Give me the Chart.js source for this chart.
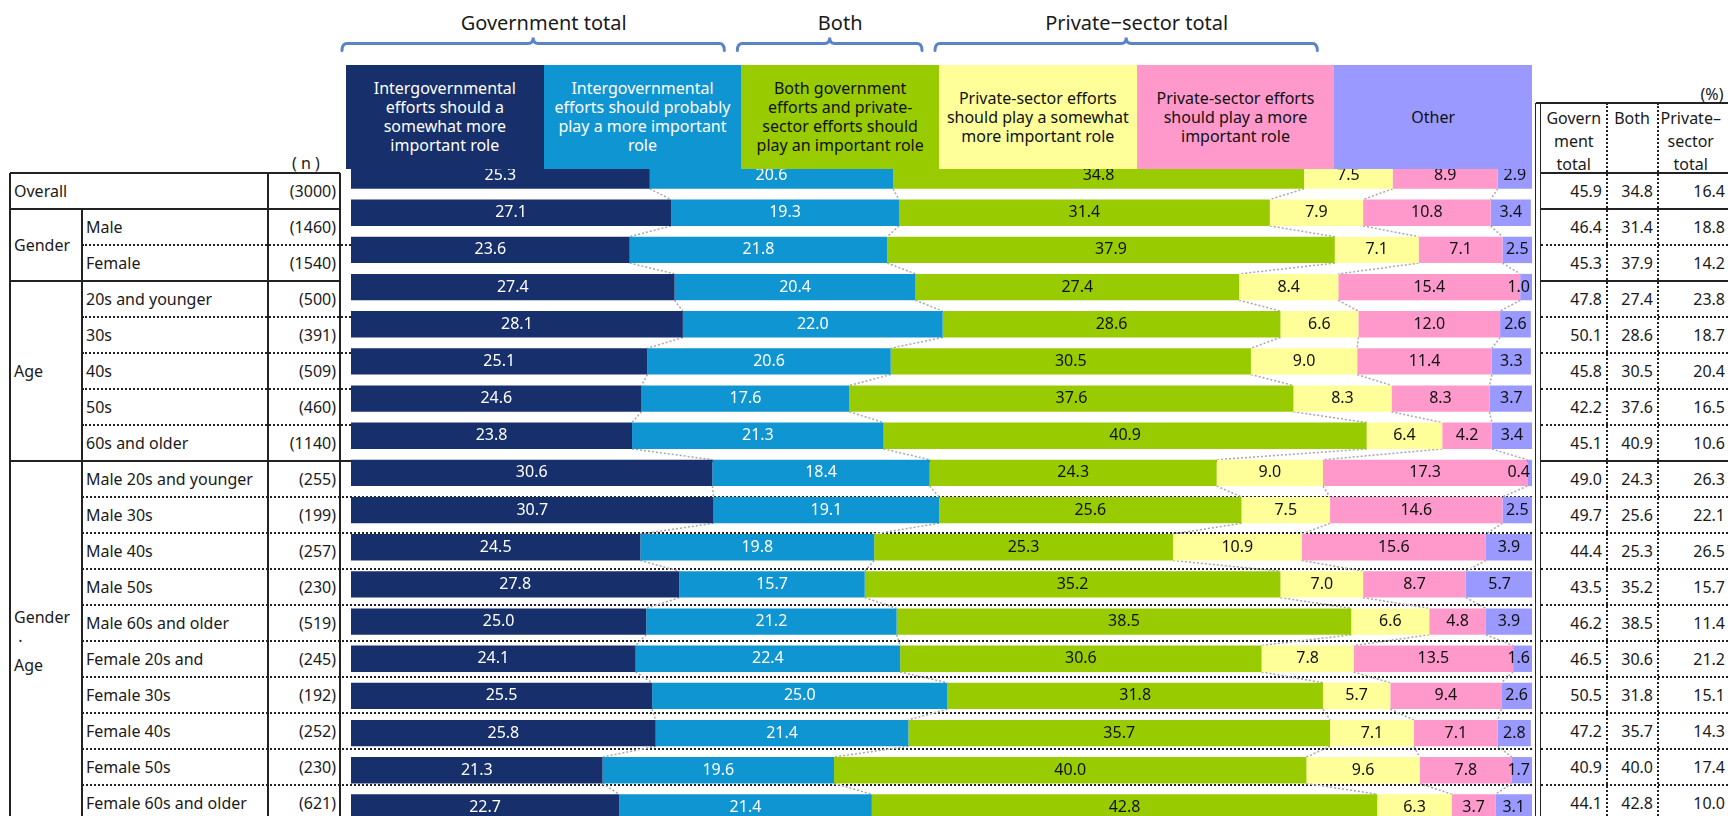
<!DOCTYPE html>
<html>
<head>
<meta charset="utf-8">
<script src="https://cdn.jsdelivr.net/npm/chart.js@4.4.0/dist/chart.umd.min.js"></script>
<style>
  html, body { margin: 0; padding: 0; background: #fff; overflow: hidden; }
  body { width: 1728px; height: 816px; position: relative; font-family: "Noto Sans", sans-serif; color: #1a1a1a; }
  #wrap { position: absolute; left: 0; top: 0; width: 1728px; height: 840px; z-index: 1; }
  .t { position: absolute; white-space: pre; font-size: 16px; line-height: 22px; }
  .ln { position: absolute; }
  .cell { position: absolute; font-size: 16px; line-height: 22px; overflow: hidden; white-space: normal; }
  .head { position: absolute; top: 65px; height: 104px; display: flex; align-items: center; justify-content: center;
          text-align: center; white-space: pre; font-size: 16px; line-height: 19px; z-index: 2; }
</style>
</head>
<body>
<div id="wrap"><canvas id="chart"></canvas></div>
<script>
// ---- data ----
const categories = ['Overall', 'Male', 'Female', '20s and younger', '30s', '40s', '50s', '60s and older',
  'Male 20s and younger', 'Male 30s', 'Male 40s', 'Male 50s', 'Male 60s and older',
  'Female 20s and younger', 'Female 30s', 'Female 40s', 'Female 50s', 'Female 60s and older'];
const nValues = [3000, 1460, 1540, 500, 391, 509, 460, 1140, 255, 199, 257, 230, 519, 245, 192, 252, 230, 621];

const seriesNames = [
  'Intergovernmental\nefforts should a\nsomewhat more\nimportant role',
  'Intergovernmental\nefforts should probably\nplay a more important\nrole',
  'Both government\nefforts and private-\nsector efforts should\nplay an important role',
  'Private-sector efforts\nshould play a somewhat\nmore important role',
  'Private-sector efforts\nshould play a more\nimportant role',
  'Other'
];
const seriesColors = ['#172F6B', '#1095D3', '#99CC00', '#FFFF99', '#FF99CC', '#9999FF'];

const govSomewhat  = [25.3, 27.1, 23.6, 27.4, 28.1, 25.1, 24.6, 23.8, 30.6, 30.7, 24.5, 27.8, 25.0, 24.1, 25.5, 25.8, 21.3, 22.7];
const govProbably  = [20.6, 19.3, 21.8, 20.4, 22.0, 20.6, 17.6, 21.3, 18.4, 19.1, 19.8, 15.7, 21.2, 22.4, 25.0, 21.4, 19.6, 21.4];
const bothRole     = [34.8, 31.4, 37.9, 27.4, 28.6, 30.5, 37.6, 40.9, 24.3, 25.6, 25.3, 35.2, 38.5, 30.6, 31.8, 35.7, 40.0, 42.8];
const privSomewhat = [7.5, 7.9, 7.1, 8.4, 6.6, 9.0, 8.3, 6.4, 9.0, 7.5, 10.9, 7.0, 6.6, 7.8, 5.7, 7.1, 9.6, 6.3];
const privMore     = [8.9, 10.8, 7.1, 15.4, 12.0, 11.4, 8.3, 4.2, 17.3, 14.6, 15.6, 8.7, 4.8, 13.5, 9.4, 7.1, 7.8, 3.7];
const other        = [2.9, 3.4, 2.5, 1.0, 2.6, 3.3, 3.7, 3.4, 0.4, 2.5, 3.9, 5.7, 3.9, 1.6, 2.6, 2.8, 1.7, 3.1];

const govTotal  = [45.9, 46.4, 45.3, 47.8, 50.1, 45.8, 42.2, 45.1, 49.0, 49.7, 44.4, 43.5, 46.2, 46.5, 50.5, 47.2, 40.9, 44.1];
const bothTotal = [34.8, 31.4, 37.9, 27.4, 28.6, 30.5, 37.6, 40.9, 24.3, 25.6, 25.3, 35.2, 38.5, 30.6, 31.8, 35.7, 40.0, 42.8];
const privTotal = [16.4, 18.8, 14.2, 23.8, 18.7, 20.4, 16.5, 10.6, 26.3, 22.1, 26.5, 15.7, 11.4, 21.2, 15.1, 14.3, 17.4, 10.0];
const totalHeads = ['Govern\nment\ntotal', 'Both', 'Private\u2013\nsector\ntotal'];

const braceTitles = ['Government total', 'Both', 'Private\u2212sector total'];
const braceSeries = [[0, 1], [2, 2], [3, 4]];
const groupLabels = ['Gender', 'Age', 'Gender\n \u00b7\nAge'];
const groupRows = [[1, 2], [3, 7], [8, 17]];

// ---- layout ----
const ROW0 = 173, ROWH = 36, BOTTOM = 840;
const X_L = 10, X_C1 = 82, X_C2 = 268, X_C3 = 340;
const BAR_L = 351, BAR_R = 1532, HEAD_L = 346;
const R_D1 = 1536, R_D2 = 1541, R_C1 = 1606.5, R_C2 = 1657.5, PAGE_R = 1728;
const headW = (BAR_R - HEAD_L) / 6;
const SOLID = '2px solid #222', DOT = '2px dotted #222';
const rowY = i => ROW0 + ROWH * (i + 0.5);

function line(x1, y1, x2, y2, style) {
  const d = document.createElement('div');
  d.className = 'ln';
  if (y1 === y2) {
    d.style.left = x1 + 'px'; d.style.top = (y1 - 1) + 'px'; d.style.width = (x2 - x1) + 'px'; d.style.borderTop = style;
  } else {
    d.style.left = (x1 - 1) + 'px'; d.style.top = y1 + 'px'; d.style.height = (y2 - y1) + 'px'; d.style.borderLeft = style;
  }
  document.body.appendChild(d);
}

function txt(s, x, y, align, extra) {
  const d = document.createElement('div');
  d.className = 't';
  d.textContent = s;
  d.style.left = x + 'px';
  d.style.top = y + 'px';
  const tx = align === 'right' ? '-100%' : align === 'center' ? '-50%' : '0';
  d.style.transform = 'translate(' + tx + ',-50%)';
  d.style.textAlign = align || 'left';
  if (extra) Object.assign(d.style, extra);
  document.body.appendChild(d);
  return d;
}

// left table
line(X_L, ROW0, X_C3, ROW0, SOLID);
line(X_L, ROW0, X_L, BOTTOM, SOLID);
line(X_C2, ROW0, X_C2, BOTTOM, SOLID);
line(X_C3, ROW0, X_C3, BOTTOM, SOLID);
line(X_C1, ROW0 + ROWH, X_C1, BOTTOM, SOLID);
txt('( n )', 306, 163, 'center');

const groupStarts = groupRows.map(g => g[0]);
const lowerStart = groupRows[2][0];
for (let i = 1; i < categories.length; i++) {
  const y = ROW0 + ROWH * i;
  if (groupStarts.includes(i)) {
    line(X_L, y, i >= lowerStart ? BAR_R : X_C3, y, SOLID);
    line(R_D2, y, PAGE_R, y, SOLID);
  } else {
    line(X_C1, y, i > lowerStart ? BAR_R : BAR_L, y, DOT);
    line(R_D2, y, PAGE_R, y, DOT);
  }
}

txt(categories[0], 14, rowY(0), 'left');
groupLabels.forEach((g, k) => {
  const [a, b] = groupRows[k];
  txt(g, 14, (rowY(a) + rowY(b)) / 2, 'left', { lineHeight: '24px' });
});
categories.forEach((c, i) => {
  if (i > 0) {
    const d = document.createElement('div');
    d.className = 'cell';
    d.textContent = c;
    d.style.left = '86px';
    d.style.top = (ROW0 + ROWH * i + 1) + 'px';
    d.style.width = '176px';
    d.style.height = (ROWH - 2 - 6) + 'px';
    d.style.paddingTop = '6px';
    document.body.appendChild(d);
  }
  txt('(' + nValues[i] + ')', 336, rowY(i), 'right');
});

// right table
line(R_D1, 103, R_D1, BOTTOM, '1.5px solid #222');
line(R_D2, 103, R_D2, BOTTOM, '1.5px solid #222');
line(R_D1, 103, PAGE_R, 103, SOLID);
line(R_D2, ROW0, PAGE_R, ROW0, SOLID);
line(R_C1, 103, R_C1, BOTTOM, DOT);
line(R_C2, 103, R_C2, BOTTOM, DOT);
txt('(%)', 1712, 94, 'center');
const colCenters = [(R_D2 + R_C1) / 2, (R_C1 + R_C2) / 2, (R_C2 + PAGE_R) / 2 - 2];
const colRights = [1602, 1653, 1725];
totalHeads.forEach((h, k) => {
  const n = h.split('\n').length;
  txt(h, colCenters[k], 106.5 + 11.5 * n, 'center', { lineHeight: '23px' });
});
[govTotal, bothTotal, privTotal].forEach((arr, k) => {
  arr.forEach((v, i) => txt(v.toFixed(1), colRights[k], rowY(i), 'right'));
});

// legend header boxes and brace titles
seriesNames.forEach((s, k) => {
  const d = document.createElement('div');
  d.className = 'head';
  d.textContent = s;
  d.style.left = (HEAD_L + k * headW) + 'px';
  d.style.width = headW + 'px';
  d.style.background = seriesColors[k];
  d.style.color = k < 2 ? '#fff' : '#111';
  document.body.appendChild(d);
});
braceTitles.forEach((t, g) => {
  const [s0, s1] = braceSeries[g];
  txt(t, HEAD_L + (s0 + s1 + 1) * headW / 2, 23, 'center', { fontSize: '20px', lineHeight: '26px' });
});

// ---- chart ----
const connectors = {
  id: 'connectors',
  beforeDatasetsDraw(chart) {
    const c = chart.ctx;
    c.save();
    c.strokeStyle = '#a8a8a8';
    c.lineWidth = 1.5;
    c.setLineDash([2, 2]);
    for (let k = 0; k < chart.data.datasets.length - 1; k++) {
      const bars = chart.getDatasetMeta(k).data;
      for (let i = 0; i < bars.length - 1; i++) {
        const a = bars[i], b = bars[i + 1];
        c.beginPath();
        c.moveTo(a.x, a.y + a.height / 2);
        c.lineTo(b.x, b.y - b.height / 2);
        c.stroke();
      }
    }
    c.restore();
  }
};

const segLabels = {
  id: 'segLabels',
  afterDatasetsDraw(chart) {
    const c = chart.ctx;
    c.save();
    c.font = '16px "Noto Sans"';
    c.textBaseline = 'middle';
    c.textAlign = 'center';
    chart.data.datasets.forEach((ds, k) => {
      chart.getDatasetMeta(k).data.forEach((bar, i) => {
        const s = ds.data[i].toFixed(1);
        const w = c.measureText(s).width;
        let cx = (bar.x + bar.base) / 2;
        const right = chart.chartArea.right - 2;
        if (cx + w / 2 > right) cx = right - w / 2;
        c.fillStyle = k < 2 ? '#fff' : '#111';
        c.fillText(s, cx, bar.y);
      });
    });
    c.restore();
  }
};

const braces = {
  id: 'braces',
  afterDraw(chart) {
    const c = chart.ctx;
    c.save();
    c.strokeStyle = '#5B84C4';
    c.lineWidth = 3;
    c.lineCap = 'round';
    braceSeries.forEach(([s0, s1]) => {
      const x0 = HEAD_L + s0 * headW - 4, x1 = HEAD_L + (s1 + 1) * headW - 17, xm = (x0 + x1) / 2;
      const yH = 43.5, yEnd = 50.5, yTip = 37.5, r = 5;
      c.beginPath();
      c.moveTo(x0, yEnd);
      c.quadraticCurveTo(x0, yH, x0 + r, yH);
      c.lineTo(xm - r, yH);
      c.quadraticCurveTo(xm, yH, xm, yTip);
      c.quadraticCurveTo(xm, yH, xm + r, yH);
      c.lineTo(x1 - r, yH);
      c.quadraticCurveTo(x1, yH, x1, yEnd);
      c.stroke();
    });
    c.restore();
  }
};

const seriesData = [govSomewhat, govProbably, bothRole, privSomewhat, privMore, other];
const ctx = document.getElementById('chart').getContext('2d');
new Chart(ctx, {
  type: 'bar',
  data: {
    labels: categories,
    datasets: seriesData.map((d, k) => ({
      label: seriesNames[k].replace(/\n/g, ' '),
      data: d,
      backgroundColor: seriesColors[k],
      borderWidth: 0,
      categoryPercentage: 1,
      barPercentage: 0.71
    }))
  },
  options: {
    indexAxis: 'y',
    responsive: true,
    maintainAspectRatio: false,
    animation: false,
    layout: { padding: { left: BAR_L, right: 1728 - BAR_R, top: 157, bottom: 14 } },
    scales: {
      x: { stacked: true, min: 0, max: 100, display: false },
      y: { stacked: true, display: false }
    },
    plugins: { legend: { display: false }, tooltip: { enabled: false } }
  },
  plugins: [connectors, segLabels, braces]
});
</script>
</body>
</html>
